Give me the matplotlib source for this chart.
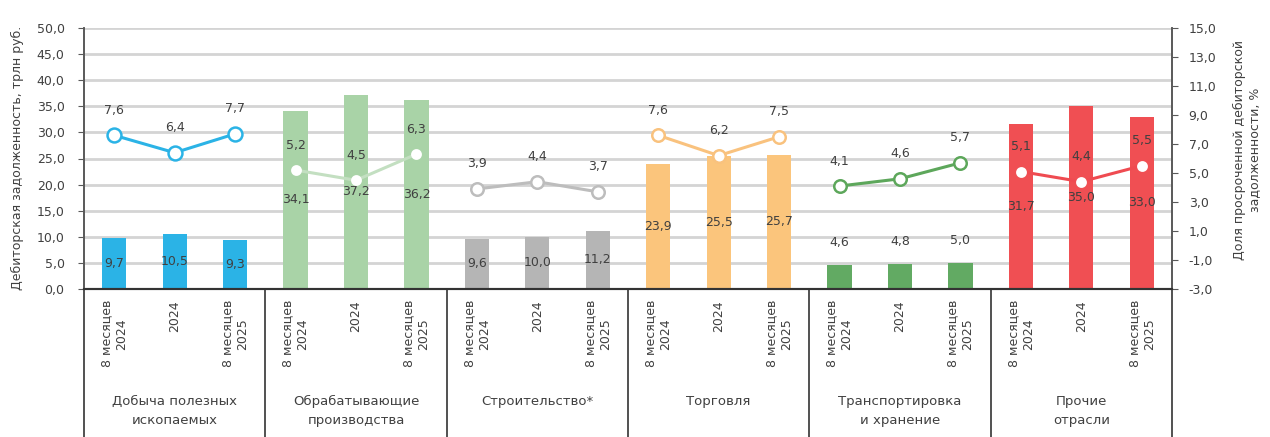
import numpy as np
import matplotlib
matplotlib.use("Agg")
import matplotlib.pyplot as plt
import matplotlib.transforms as mtransforms

plt.rcParams['font.family'] = ['DejaVu Sans']

groups = ["Добыча полезных\nископаемых", "Обрабатывающие\nпроизводства", "Строительство*",
          "Торговля", "Транспортировка\nи хранение", "Прочие\nотрасли"]
periods = ["8 месяцев\n2024", "2024", "8 месяцев\n2025"]

debt = [9.7, 10.5, 9.3, 34.1, 37.2, 36.2, 9.6, 10.0, 11.2,
        23.9, 25.5, 25.7, 4.6, 4.8, 5.0, 31.7, 35.0, 33.0]
overdue = [7.6, 6.4, 7.7, 5.2, 4.5, 6.3, 3.9, 4.4, 3.7,
           7.6, 6.2, 7.5, 4.1, 4.6, 5.7, 5.1, 4.4, 5.5]

bar_colors = ["#2BB3E6", "#A9D3A7", "#B5B5B5", "#FBC57C", "#62AA63", "#F04F53"]
line_colors = ["#2BB3E6", "#C3DFC1", "#BDBDBD", "#F9C27E", "#5DA75B", "#EF4B51"]
marker_edge = ["#2BB3E6", "white", "#BDBDBD", "#F9C27E", "#5DA75B", "white"]
marker_size = [10, 6, 9, 9, 9, 6]

txt = "#404040"

def fmt(v):
    return ("%.1f" % v).replace(".", ",")

fig = plt.figure(figsize=(12.7, 4.37), dpi=100)
ax = fig.add_axes([84 / 1270, 1 - 289 / 437, (1172 - 84) / 1270, 261 / 437])
ax2 = ax.twinx()

x = np.arange(len(debt))
ng = len(groups)
for g in range(ng):
    xs = x[g * 3:(g + 1) * 3]
    vals = debt[g * 3:(g + 1) * 3]
    ax.bar(xs, vals, width=0.4, color=bar_colors[g], zorder=2)
    for xi, v in zip(xs, vals):
        if g == 4:
            ax.annotate(fmt(v), (xi, v), xytext=(0, 16), textcoords="offset points",
                        ha="center", va="center", fontsize=9, color=txt)
        else:
            ax.text(xi, v / 2, fmt(v), ha="center", va="center", fontsize=9, color=txt, zorder=3)
    lv = overdue[g * 3:(g + 1) * 3]
    ax2.plot(xs, lv, color=line_colors[g], lw=2.2, marker="o", ms=marker_size[g],
             mfc="white", mec=marker_edge[g], mew=1.8, zorder=4)
    for xi, v in zip(xs, lv):
        ax2.annotate(fmt(v), (xi, v), xytext=(0, 18), textcoords="offset points",
                     ha="center", va="center", fontsize=9, color=txt)

ax.set_xlim(-0.5, len(debt) - 0.5)
ax.set_ylim(0, 50)
ax.set_yticks(np.arange(0, 51, 5))
ax.set_yticklabels([fmt(v) for v in np.arange(0, 51, 5)], fontsize=9, color=txt)
ax2.set_ylim(-3, 15)
ax2.set_yticks(np.arange(-3, 16, 2))
ax2.set_yticklabels([fmt(v) for v in np.arange(-3, 16, 2)], fontsize=9, color=txt)

ax.yaxis.grid(True, color="#D4D4D4", lw=2)
ax.set_axisbelow(True)

ax.set_xticks(x)
ax.set_xticklabels(periods * ng, rotation=90, fontsize=9, color=txt, ha="center", va="top",
                   multialignment="center")
ax.tick_params(axis="x", length=0, pad=8)
ax.tick_params(axis="y", length=4, color="#595959", pad=10)
ax2.tick_params(axis="y", length=4, color="#595959", pad=8)

for a in (ax, ax2):
    a.spines["top"].set_visible(False)
    a.spines["left"].set_color("#595959")
    a.spines["right"].set_color("#595959")
    a.spines["bottom"].set_color("#333333")
    a.spines["left"].set_linewidth(1.2)
    a.spines["right"].set_linewidth(1.2)
    a.spines["bottom"].set_linewidth(1.5)

trans = mtransforms.blended_transform_factory(ax.transData, ax.transAxes)
for g in range(ng + 1):
    ax.plot([g * 3 - 0.5, g * 3 - 0.5], [0, -0.62], color="#333333", lw=1.2,
            transform=trans, clip_on=False)
for g in range(ng):
    ax.text(g * 3 + 1, -0.405, groups[g], transform=trans, ha="center", va="top",
            fontsize=9.5, color=txt, linespacing=1.6)

fig.text(17 / 1270, 1 - 158 / 437, "Дебиторская задолженность, трлн руб.", rotation=90,
         ha="center", va="center", fontsize=9, color=txt)
fig.text(1247 / 1270, 1 - 150 / 437, "Доля просроченной дебиторской\nзадолженности, %",
         rotation=90, ha="center", va="center", fontsize=9, color=txt, multialignment="center")

fig.savefig("out.png", dpi=100)
